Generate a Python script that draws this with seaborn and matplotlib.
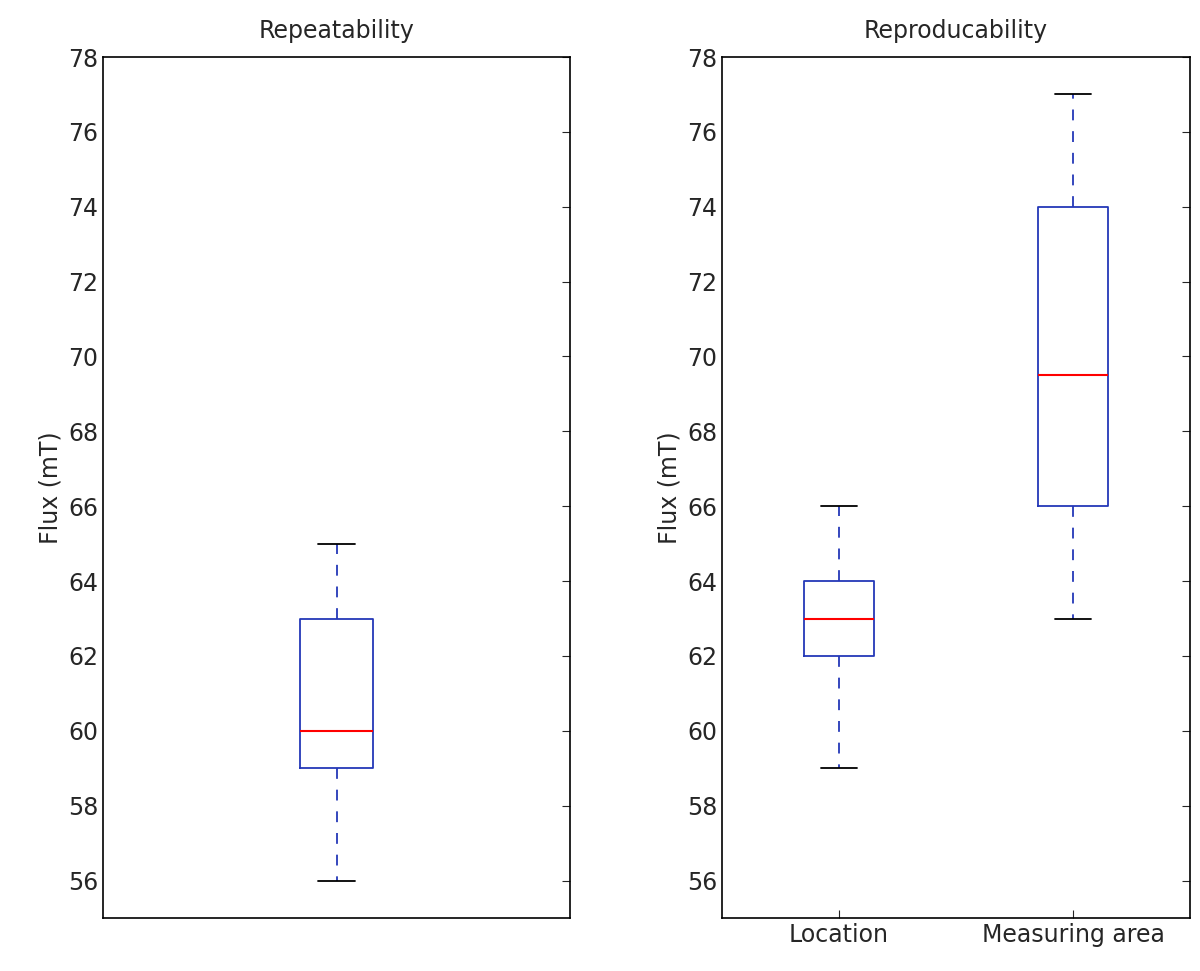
import matplotlib
matplotlib.use("Agg")
import matplotlib.pyplot as plt
import pandas as pd
import seaborn as sns

# five-point samples whose quartiles/whiskers equal the plotted box stats
repeat_vals = [56, 59, 60, 63, 65]
location_vals = [59, 62, 63, 64, 66]
area_vals = [63, 66, 69.5, 74, 77]
categories = ["Location", "Measuring area"]
yticks = list(range(56, 79, 2))

sns.set_style("white")
plt.rcParams["font.family"] = ["DejaVu Sans"]

blue = "#2438b8"
props = dict(
    medianprops=dict(color="red", linewidth=1.5),
    whiskerprops=dict(color=blue, linestyle=(0, (6, 6)), linewidth=1.3),
    capprops=dict(color="black", linewidth=1.3),
    boxprops=dict(color=blue, linewidth=1.3),
    showfliers=False,
)

fig = plt.figure(figsize=(12, 9.71), dpi=100)
ax1 = fig.add_axes([103 / 1200, 53 / 971, 467 / 1200, 861 / 971])
ax2 = fig.add_axes([722 / 1200, 53 / 971, 468 / 1200, 861 / 971])

sns.boxplot(y=repeat_vals, ax=ax1, fill=False, width=0.155, linecolor=blue, **props)

df = pd.DataFrame({
    "group": [categories[0]] * len(location_vals) + [categories[1]] * len(area_vals),
    "flux": location_vals + area_vals,
})
sns.boxplot(data=df, x="group", y="flux", order=categories, ax=ax2, fill=False,
            width=0.3, linecolor=blue, **props)

for ax, title in [(ax1, "Repeatability"), (ax2, "Reproducability")]:
    ax.set_ylim(55, 78)
    ax.set_yticks(yticks)
    ax.set_ylabel("Flux (mT)", fontsize=17)
    ax.set_xlabel("")
    ax.set_title(title, fontsize=17, pad=14)
    ax.tick_params(direction="in", length=6, labelsize=17, right=True, top=False)
    for s in ax.spines.values():
        s.set_visible(True)
        s.set_color("black")
        s.set_linewidth(1.2)

ax1.set_xticks([])
ax2.tick_params(axis="x", bottom=True, direction="in")

fig.savefig("out.png", dpi=100)
